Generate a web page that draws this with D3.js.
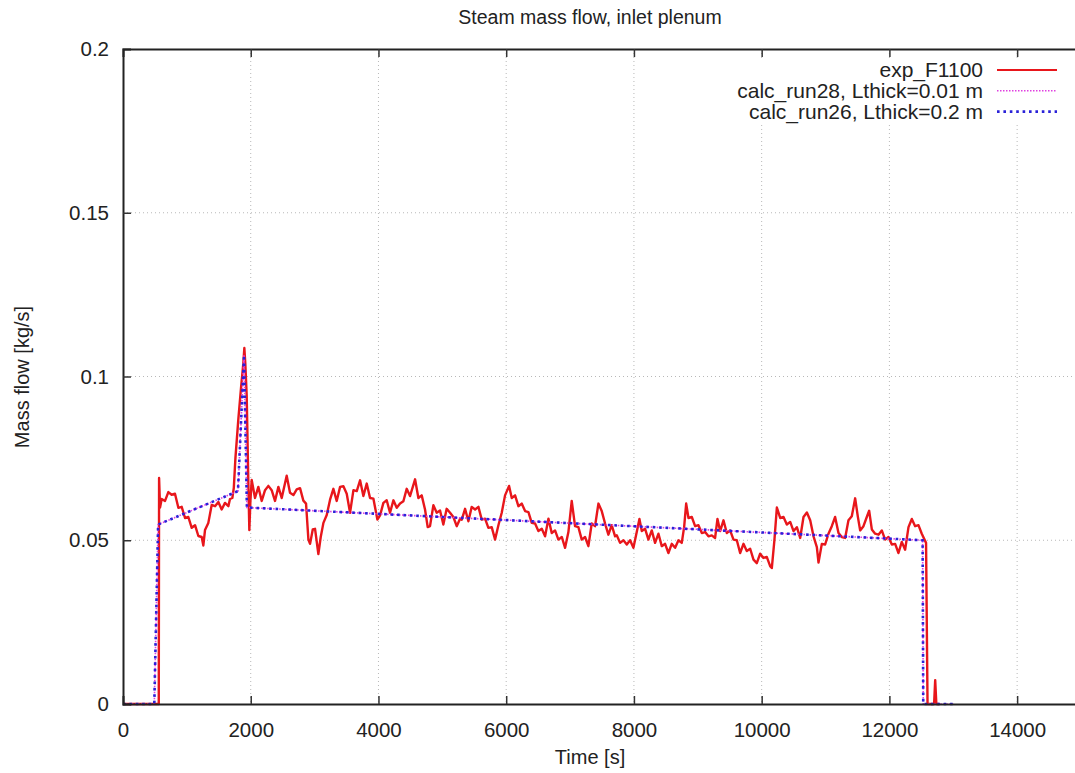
<!DOCTYPE html>
<html>
<head>
<meta charset="utf-8">
<script src="https://cdn.jsdelivr.net/npm/d3@7"></script>
<style>
  html, body { margin: 0; padding: 0; background: #fff; }
  svg { display: block; font-family: "Liberation Sans", Arial, Helvetica, sans-serif; }
</style>
</head>
<body>
<svg id="chart" width="1075" height="773"></svg>
<script>
// Axis ticks and labels
const xTicks = [0, 2000, 4000, 6000, 8000, 10000, 12000, 14000];
const xTickLabels = ["0", "2000", "4000", "6000", "8000", "10000", "12000", "14000"];
const yTicks = [0, 0.05, 0.1, 0.15, 0.2];
const yTickLabels = ["0", "0.05", "0.1", "0.15", "0.2"];

const seriesNames = ["exp_F1100", "calc_run28, Lthick=0.01 m", "calc_run26, Lthick=0.2 m"];

// Measured steam mass flow [time s, kg/s]
const expF1100 = [
  [0,0],[300,0],[560,0],[565,0.069],[580,0.060],
  [606,0.0626],[658,0.0620],[710,0.0647],[762,0.0639],[814,0.0642],[867,0.0599],
  [919,0.0602],[971,0.0568],[1023,0.0571],[1076,0.0538],[1128,0.0546],[1180,0.0513],
  [1232,0.0510],[1258,0.0484],[1284,0.0531],[1336,0.0553],[1389,0.0608],[1441,0.0604],
  [1493,0.0617],[1545,0.0594],[1597,0.0614],[1650,0.0604],[1675,0.0626],[1712,0.0629],
  [1735,0.066],[1760,0.075],[1806,0.087],[1850,0.097],[1884,0.104],[1900,0.1087],
  [1915,0.104],[1937,0.094],[1960,0.070],[1978,0.0531],[1995,0.062],[2015,0.0684],
  [2067,0.0629],[2119,0.0663],[2172,0.0620],[2224,0.0653],[2276,0.0666],[2328,0.0653],
  [2380,0.0620],[2433,0.0663],[2485,0.0629],[2563,0.0697],[2615,0.0645],[2668,0.0638],
  [2720,0.0655],[2772,0.0659],[2824,0.0621],[2866,0.0612],[2903,0.0502],[2929,0.0489],
  [2971,0.0533],[3007,0.0535],[3059,0.0458],[3096,0.0510],[3138,0.0553],[3190,0.0577],
  [3242,0.0624],[3294,0.0657],[3346,0.0620],[3399,0.0663],[3451,0.0665],[3503,0.0642],
  [3555,0.0584],[3608,0.0653],[3660,0.0650],[3712,0.0683],[3764,0.0635],[3816,0.0673],
  [3868,0.0629],[3921,0.0627],[3983,0.0563],[4025,0.0576],[4077,0.0614],[4129,0.0622],
  [4181,0.0584],[4234,0.0622],[4286,0.0599],[4338,0.0612],[4390,0.0619],[4442,0.0657],
  [4494,0.0635],[4573,0.0686],[4625,0.0629],[4677,0.0637],[4729,0.0594],[4771,0.0540],
  [4807,0.0543],[4860,0.0607],[4912,0.0584],[4964,0.0591],[5016,0.0548],[5068,0.0596],
  [5121,0.0584],[5173,0.0571],[5225,0.0543],[5278,0.0566],[5304,0.0563],[5356,0.0596],
  [5408,0.0558],[5460,0.0602],[5513,0.0594],[5565,0.0602],[5617,0.0563],[5669,0.0566],
  [5721,0.0538],[5773,0.0540],[5826,0.0502],[5878,0.0546],[5930,0.0584],[5982,0.0637],
  [6045,0.0666],[6087,0.0629],[6139,0.0637],[6191,0.0604],[6243,0.0612],[6296,0.0589],
  [6348,0.0586],[6400,0.0553],[6452,0.0551],[6504,0.0528],[6557,0.0535],[6609,0.0512],
  [6661,0.0566],[6713,0.0522],[6765,0.0530],[6817,0.0502],[6870,0.0510],[6922,0.0477],
  [6974,0.0525],[7026,0.0620],[7078,0.0543],[7130,0.0540],[7183,0.0502],[7235,0.0510],
  [7287,0.0482],[7339,0.0551],[7391,0.0543],[7444,0.0612],[7496,0.0589],[7548,0.0551],
  [7600,0.0517],[7652,0.0546],[7705,0.0512],[7731,0.0515],[7783,0.0492],[7836,0.0500],
  [7888,0.0487],[7940,0.0500],[7992,0.0477],[8044,0.0525],[8086,0.0565],[8123,0.0528],
  [8175,0.0535],[8227,0.0502],[8279,0.0530],[8331,0.0492],[8384,0.0520],[8436,0.0482],
  [8488,0.0489],[8540,0.0461],[8592,0.0489],[8645,0.0477],[8697,0.0500],[8749,0.0492],
  [8786,0.0540],[8818,0.0612],[8854,0.0568],[8906,0.0571],[8958,0.0543],[9010,0.0546],
  [9063,0.0522],[9115,0.0525],[9167,0.0512],[9219,0.0515],[9271,0.0507],[9308,0.0565],
  [9350,0.0528],[9402,0.0561],[9454,0.0522],[9506,0.0530],[9559,0.0502],[9611,0.0500],
  [9663,0.0461],[9715,0.0489],[9767,0.0467],[9820,0.0474],[9872,0.0441],[9924,0.0430],
  [9976,0.0459],[10028,0.0446],[10080,0.0449],[10133,0.0421],[10159,0.0415],[10200,0.0501],
  [10238,0.0600],[10290,0.0568],[10342,0.0571],[10394,0.0548],[10447,0.0556],[10499,0.0528],
  [10551,0.0540],[10603,0.0507],[10655,0.0571],[10708,0.0585],[10760,0.0561],[10812,0.0512],
  [10864,0.0479],[10890,0.0432],[10942,0.0489],[10994,0.0487],[11046,0.0520],[11098,0.0543],
  [11150,0.0571],[11203,0.0522],[11255,0.0510],[11307,0.0507],[11359,0.0561],[11411,0.0573],
  [11464,0.0628],[11505,0.0573],[11542,0.0530],[11594,0.0543],[11646,0.0571],[11683,0.0590],
  [11725,0.0533],[11777,0.0520],[11829,0.0517],[11881,0.0530],[11933,0.0502],[11986,0.0510],
  [12038,0.0487],[12090,0.0489],[12142,0.0461],[12194,0.0495],[12246,0.0471],[12299,0.0540],
  [12351,0.0565],[12403,0.0543],[12455,0.0546],[12507,0.0520],[12574,0.0492],[12597,0],
  [12700,0],[12717,0.0073],[12735,0],[12780,0]
];

// Calculated mass flow, thin layer [time s, kg/s]
const calcRun28 = [
  [0,0],[490,0],[550,0.0548],[1800,0.0650],[1895,0.1065],[1940,0.0600],
  [12520,0.0500],[12530,0],[13000,0]
];

// Calculated mass flow, thick layer [time s, kg/s]
const calcRun26 = [
  [0,0],[490,0],[550,0.0548],[1800,0.0650],[1895,0.1065],[1940,0.0600],
  [12520,0.0500],[12530,0],[13000,0]
];

const colors = ["#e8161b", "#e040e0", "#2a22d8"];

const svg = d3.select("#chart");
const plotLeft = 123, plotTop = 49, plotBottom = 704, plotRight = 1081;

const x = d3.scaleLinear().domain([0, 15000]).range([plotLeft, plotRight]);
const y = d3.scaleLinear().domain([0, 0.2]).range([plotBottom, plotTop]);

svg.append("rect").attr("width", 1075).attr("height", 773).attr("fill", "#fff");

// Grid
const grid = svg.append("g").attr("stroke", "#b8b8b8").attr("stroke-width", 1)
  .attr("stroke-dasharray", "1,3");
xTicks.filter(d => d > 0).forEach(d => {
  grid.append("line").attr("x1", x(d)).attr("x2", x(d)).attr("y1", plotTop).attr("y2", plotBottom);
});
yTicks.filter(d => d > 0 && d < 0.2).forEach(d => {
  grid.append("line").attr("x1", plotLeft).attr("x2", plotRight).attr("y1", y(d)).attr("y2", y(d));
});

// Clip for series
svg.append("clipPath").attr("id", "plotClip").append("rect")
  .attr("x", plotLeft).attr("y", plotTop).attr("width", plotRight - plotLeft)
  .attr("height", plotBottom - plotTop + 2);

const line = d3.line().x(d => x(d[0])).y(d => y(d[1]));
const plot = svg.append("g").attr("clip-path", "url(#plotClip)");

plot.append("path").datum(expF1100).attr("d", line)
  .attr("fill", "none").attr("stroke", colors[0]).attr("stroke-width", 2.4)
  .attr("stroke-linejoin", "round");
plot.append("path").datum(calcRun28).attr("d", line)
  .attr("fill", "none").attr("stroke", colors[1]).attr("stroke-width", 1.6)
  .attr("stroke-dasharray", "1.5,1.5");
plot.append("path").datum(calcRun26).attr("d", line)
  .attr("fill", "none").attr("stroke", colors[2]).attr("stroke-width", 2.6)
  .attr("stroke-dasharray", "2.6,3.8");

// Axes with inward ticks
const tickFont = 20.5;
const xAxis = d3.axisBottom(x).tickValues(xTicks)
  .tickFormat((d, i) => xTickLabels[i]).tickSize(-8).tickPadding(18);
const gx = svg.append("g").attr("transform", `translate(0,${plotBottom})`).call(xAxis);

const xTop = d3.axisTop(x).tickValues(xTicks.filter(d => d > 0)).tickFormat("").tickSize(-8);
const gxt = svg.append("g").attr("transform", `translate(0,${plotTop})`).call(xTop);

const yAxis = d3.axisLeft(y).tickValues(yTicks)
  .tickFormat((d, i) => yTickLabels[i]).tickSize(-8).tickPadding(14);
const gy = svg.append("g").attr("transform", `translate(${plotLeft},0)`).call(yAxis);

[gx, gxt, gy].forEach(g => {
  g.select(".domain").attr("stroke", "#222").attr("stroke-width", 2);
  g.selectAll(".tick line").attr("stroke", "#333").attr("stroke-width", 1.5);
  g.selectAll(".tick text").attr("fill", "#222").style("font-size", tickFont + "px")
    .style("font-family", "'Liberation Sans', Arial, sans-serif");
});
gx.selectAll(".tick").filter(d => d === 0).select("line").remove();
gy.selectAll(".tick").filter(d => d === 0 || d === 0.2).select("line").remove();

// Titles
svg.append("text").attr("x", 590).attr("y", 24).attr("text-anchor", "middle")
  .style("font-size", "19.5px").attr("fill", "#222").text("Steam mass flow, inlet plenum");
svg.append("text").attr("x", 590).attr("y", 764).attr("text-anchor", "middle")
  .style("font-size", "20px").attr("fill", "#222").text("Time [s]");
svg.append("text").attr("transform", "translate(29,377) rotate(-90)").attr("text-anchor", "middle")
  .style("font-size", "20px").attr("fill", "#222").text("Mass flow [kg/s]");

// Legend
const legend = svg.append("g");
legend.append("rect").attr("x", 722).attr("y", 58).attr("width", 345).attr("height", 64).attr("fill", "#fff");
const legendStyles = [
  { w: 2.2, dash: null },
  { w: 1.6, dash: "1.5,1.5" },
  { w: 2.6, dash: "2.6,3.8" }
];
seriesNames.forEach((name, i) => {
  const yy = 70 + i * 20.8;
  legend.append("text").attr("x", 983).attr("y", yy).attr("dy", "0.35em")
    .attr("text-anchor", "end").style("font-size", "21px").attr("fill", "#222").text(name);
  const l = legend.append("line").attr("x1", 997).attr("x2", 1057).attr("y1", yy).attr("y2", yy)
    .attr("stroke", colors[i]).attr("stroke-width", legendStyles[i].w);
  if (legendStyles[i].dash) l.attr("stroke-dasharray", legendStyles[i].dash);
});
</script>
</body>
</html>
